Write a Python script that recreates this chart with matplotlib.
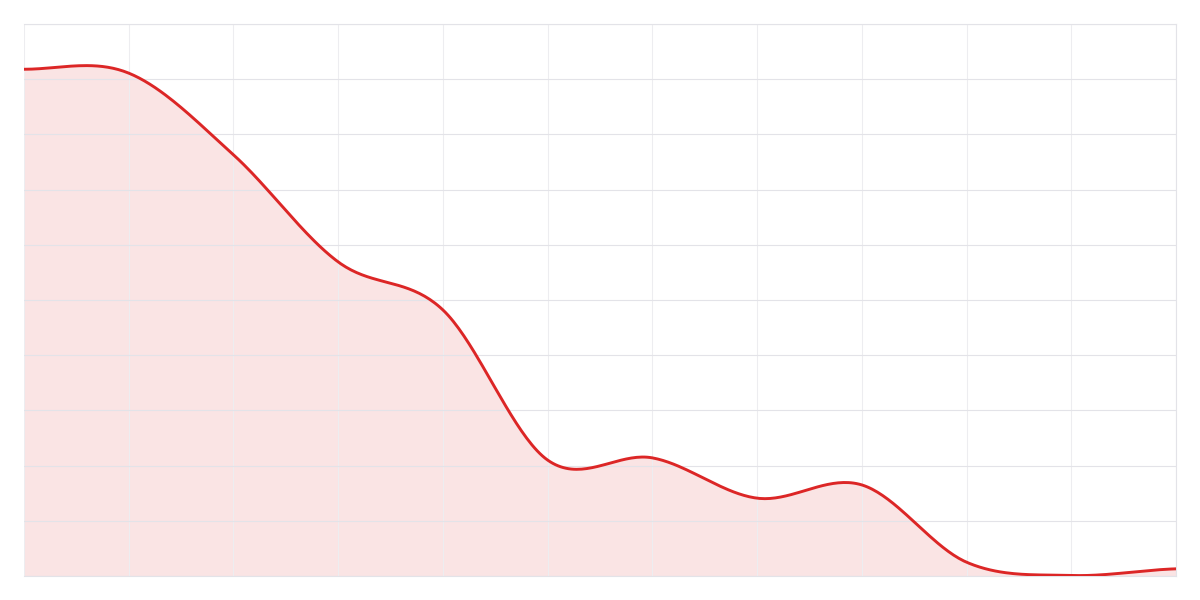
import matplotlib
matplotlib.use("Agg")
import matplotlib.pyplot as plt
import numpy as np


# values (0-100 scale, 12 evenly spaced points)
POINTS = list(range(12))
VALUES = [91.8, 91.1, 76.3, 56.9, 48.2, 21.0, 21.4, 14.1, 16.5, 2.5, 0.1, 1.3]

LINE_COLOR = "#dc2626"
FILL_COLOR = "#dc2626"
GRID_COLOR = "#e3e3e8"


def smooth(xs, ys, steps=40):
    # catmull-rom style cubic through every point, flat-ish ends
    xs = np.asarray(xs, dtype=float)
    ys = np.asarray(ys, dtype=float)
    n = len(xs)
    m = np.zeros(n)
    m[1:-1] = (ys[2:] - ys[:-2]) / 2
    m[0] = 0.0
    m[-1] = (ys[-1] - ys[-2]) * 0.5
    out_x, out_y = [], []
    for i in range(n - 1):
        t = np.linspace(0, 1, steps, endpoint=(i == n - 2))
        h00 = 2 * t**3 - 3 * t**2 + 1
        h10 = t**3 - 2 * t**2 + t
        h01 = -2 * t**3 + 3 * t**2
        h11 = t**3 - t**2
        out_x.append(xs[i] + t * (xs[i + 1] - xs[i]))
        out_y.append(h00 * ys[i] + h10 * m[i] + h01 * ys[i + 1] + h11 * m[i + 1])
    return np.concatenate(out_x), np.concatenate(out_y)


fig = plt.figure(figsize=(12, 6), dpi=100, facecolor="white")
ax = fig.add_axes([24 / 1200, 24 / 600, 1152 / 1200, 552 / 600])

sx, sy = smooth(POINTS, VALUES)
ax.fill_between(sx, sy, 0, color=FILL_COLOR, alpha=0.12, linewidth=0, zorder=1)
ax.plot(sx, sy, color=LINE_COLOR, linewidth=2.1, solid_capstyle="round", zorder=3)

ax.set_xlim(0, 11)
ax.set_ylim(0, 100)
ax.set_xticks(POINTS)
ax.set_yticks(np.arange(0, 101, 10))
ax.tick_params(length=0, labelbottom=False, labelleft=False)
ax.set_axisbelow(False)
ax.grid(True, axis="y", color=GRID_COLOR, linewidth=0.8, zorder=2)
ax.grid(True, axis="x", color="#ededf0", linewidth=0.8, zorder=2)
for side in ax.spines.values():
    side.set_color(GRID_COLOR)
    side.set_linewidth(0.8)
ax.spines["left"].set_visible(False)

fig.savefig("out.png", dpi=100, facecolor="white")
plt.close(fig)
